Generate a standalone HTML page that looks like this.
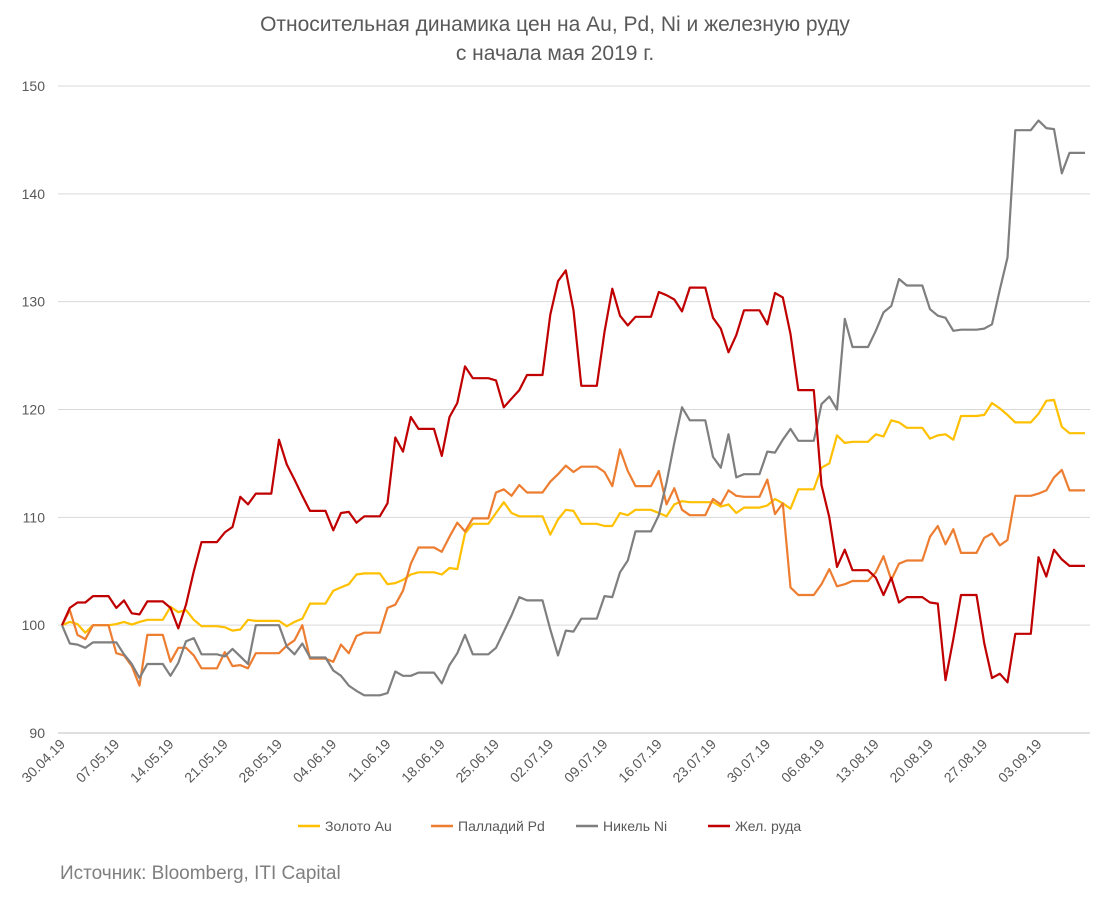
<!DOCTYPE html>
<html><head><meta charset="utf-8">
<style>
body{margin:0;background:#fff;}
svg text{font-family:"Liberation Sans",sans-serif;}
</style></head>
<body>
<svg id="chart" width="1110" height="913" xmlns="http://www.w3.org/2000/svg">
<text x="555" y="31" text-anchor="middle" font-size="21" fill="#595959">Относительная динамика цен на Au, Pd, Ni и железную руду</text>
<text x="555" y="60" text-anchor="middle" font-size="21" fill="#595959">с начала мая 2019 г.</text>
<g id="grid"></g><g id="yticks"></g><g id="xticks"></g><g id="series"></g>
<g>
<line x1="298" y1="826" x2="320" y2="826" stroke="#FFC000" stroke-width="2.5"/>
<text x="325" y="831" font-size="14" fill="#595959">Золото Au</text>
<line x1="431" y1="826" x2="453" y2="826" stroke="#ED7D31" stroke-width="2.5"/>
<text x="458" y="831" font-size="14" fill="#595959">Палладий Pd</text>
<line x1="576" y1="826" x2="598" y2="826" stroke="#7F7F7F" stroke-width="2.5"/>
<text x="603" y="831" font-size="14" fill="#595959">Никель Ni</text>
<line x1="708" y1="826" x2="730" y2="826" stroke="#C00000" stroke-width="2.5"/>
<text x="735" y="831" font-size="14" fill="#595959">Жел. руда</text>
</g>
<text x="60" y="879" font-size="19" fill="#7f7f7f">Источник: Bloomberg, ITI Capital</text>
</svg>
<script>
const xTickLabels=["30.04.19","07.05.19","14.05.19","21.05.19","28.05.19","04.06.19","11.06.19","18.06.19","25.06.19","02.07.19","09.07.19","16.07.19","23.07.19","30.07.19","06.08.19","13.08.19","20.08.19","27.08.19","03.09.19"];
const yTicks=[90,100,110,120,130,140,150];
const gold=[100,100.3,100.1,99.3,100,100,100,100.1,100.3,100.05,100.3,100.5,100.5,100.5,101.7,101.2,101.4,100.5,99.9,99.9,99.9,99.8,99.5,99.6,100.5,100.4,100.4,100.4,100.4,99.9,100.3,100.6,102,102,102,103.2,103.5,103.8,104.7,104.8,104.8,104.8,103.8,103.9,104.2,104.7,104.9,104.9,104.9,104.7,105.3,105.2,108.5,109.4,109.4,109.4,110.4,111.4,110.4,110.1,110.1,110.1,110.1,108.4,109.8,110.7,110.6,109.4,109.4,109.4,109.2,109.2,110.4,110.2,110.7,110.7,110.7,110.4,110.1,111.2,111.5,111.4,111.4,111.4,111.4,111,111.2,110.4,110.9,110.9,110.9,111.1,111.7,111.3,110.8,112.6,112.6,112.6,114.6,115,117.6,116.9,117,117,117,117.7,117.5,119,118.8,118.3,118.3,118.3,117.3,117.6,117.7,117.2,119.4,119.4,119.4,119.5,120.6,120.1,119.5,118.8,118.8,118.8,119.6,120.8,120.9,118.4,117.8,117.8,117.8];
const palladium=[100,101.4,99.1,98.7,100,100,100,97.4,97.2,96.2,94.4,99.1,99.1,99.1,96.6,97.9,97.9,97.2,96,96,96,97.5,96.2,96.3,96,97.4,97.4,97.4,97.4,98.1,98.6,100,96.9,96.9,96.9,96.6,98.2,97.4,99,99.3,99.3,99.3,101.6,101.9,103.2,105.7,107.2,107.2,107.2,106.8,108.2,109.5,108.7,109.9,109.9,109.9,112.3,112.6,112,113,112.3,112.3,112.3,113.3,114,114.8,114.2,114.7,114.7,114.7,114.2,112.9,116.3,114.3,112.9,112.9,112.9,114.3,111.2,112.7,110.7,110.2,110.2,110.2,111.7,111.2,112.5,112,111.9,111.9,111.9,113.5,110.3,111.3,103.5,102.8,102.8,102.8,103.8,105.2,103.6,103.8,104.1,104.1,104.1,104.9,106.4,104.2,105.7,106,106,106,108.2,109.2,107.5,108.9,106.7,106.7,106.7,108.1,108.5,107.4,107.9,112,112,112,112.2,112.5,113.7,114.4,112.5,112.5,112.5];
const nickel=[100,98.3,98.2,97.9,98.4,98.4,98.4,98.4,97.3,96.4,95.1,96.4,96.4,96.4,95.3,96.5,98.5,98.8,97.3,97.3,97.3,97.1,97.8,97.1,96.4,100,100,100,100,98,97.3,98.3,97,97,97,95.8,95.3,94.4,93.9,93.5,93.5,93.5,93.7,95.7,95.3,95.3,95.6,95.6,95.6,94.6,96.3,97.4,99.1,97.3,97.3,97.3,97.9,99.4,100.9,102.6,102.3,102.3,102.3,99.6,97.2,99.5,99.4,100.6,100.6,100.6,102.7,102.6,104.9,106,108.7,108.7,108.7,110.2,113.2,116.9,120.2,119,119,119,115.6,114.6,117.7,113.7,114,114,114,116.1,116,117.2,118.2,117.1,117.1,117.1,120.5,121.2,120,128.4,125.8,125.8,125.8,127.3,129,129.6,132.1,131.5,131.5,131.5,129.3,128.7,128.5,127.3,127.4,127.4,127.4,127.5,127.9,131.1,134.1,145.9,145.9,145.9,146.8,146.1,146,141.9,143.8,143.8,143.8];
const ironOre=[100,101.6,102.1,102.1,102.7,102.7,102.7,101.6,102.3,101.1,101,102.2,102.2,102.2,101.6,99.7,101.9,105,107.7,107.7,107.7,108.6,109.1,111.9,111.2,112.2,112.2,112.2,117.2,114.9,113.5,112,110.6,110.6,110.6,108.8,110.4,110.5,109.5,110.1,110.1,110.1,111.3,117.4,116.1,119.3,118.2,118.2,118.2,115.7,119.3,120.6,124,122.9,122.9,122.9,122.7,120.2,121,121.8,123.2,123.2,123.2,128.8,131.9,132.9,129.2,122.2,122.2,122.2,127.2,131.2,128.7,127.8,128.6,128.6,128.6,130.9,130.6,130.2,129.1,131.3,131.3,131.3,128.5,127.5,125.3,126.9,129.2,129.2,129.2,127.9,130.8,130.4,127,121.8,121.8,121.8,113,110,105.4,107,105.1,105.1,105.1,104.4,102.8,104.4,102.1,102.6,102.6,102.6,102.1,102,94.9,98.7,102.8,102.8,102.8,98.3,95.1,95.5,94.7,99.2,99.2,99.2,106.3,104.5,107,106.1,105.5,105.5,105.5];

const NS="http://www.w3.org/2000/svg";
const X0=62,X1=1085,Y0=733,Y1=86,VMIN=90,VMAX=150;
const N=ironOre.length;
function xs(i){return X0+(X1-X0)*i/(N-1);}
function ys(v){return Y0-(v-VMIN)/(VMAX-VMIN)*(Y0-Y1);}
function mk(tag,attrs,parent){const e=document.createElementNS(NS,tag);for(const k in attrs)e.setAttribute(k,attrs[k]);parent.appendChild(e);return e;}
const grid=document.getElementById('grid'),yt=document.getElementById('yticks'),xt=document.getElementById('xticks'),sg=document.getElementById('series');
yTicks.forEach(v=>{
  const l=mk('line',{x1:58,x2:1090,y1:ys(v),y2:ys(v),stroke:v===90?'#bfbfbf':'#d9d9d9','stroke-width':1},grid);
  
  
  const t=mk('text',{x:45,y:ys(v)+5,'text-anchor':'end','font-size':14,fill:'#595959'},yt);
  t.textContent=v;
  
  
});
xTickLabels.forEach((lab,k)=>{
  const x=xs(k*7),y=745;
  const t=mk('text',{x:x+4,y:y,'text-anchor':'end','font-size':14,fill:'#595959',transform:'rotate(-45 '+(x+4)+' '+y+')'},xt);
  t.textContent=lab;
  
  
});
const seriesList=[[gold,'#FFC000','gold-line'],[palladium,'#ED7D31','palladium-line'],[nickel,'#7F7F7F','nickel-line'],[ironOre,'#C00000','iron-ore-line']];
seriesList.forEach(s=>{
  const d=s[0].map((v,i)=>(i?'L':'M')+xs(i).toFixed(1)+' '+ys(v).toFixed(1)).join(' ');
  const p=mk('path',{d:d,fill:'none',stroke:s[1],'stroke-width':2.2,'stroke-linejoin':'round'},sg);
  
  
});
</script>
</body></html>
